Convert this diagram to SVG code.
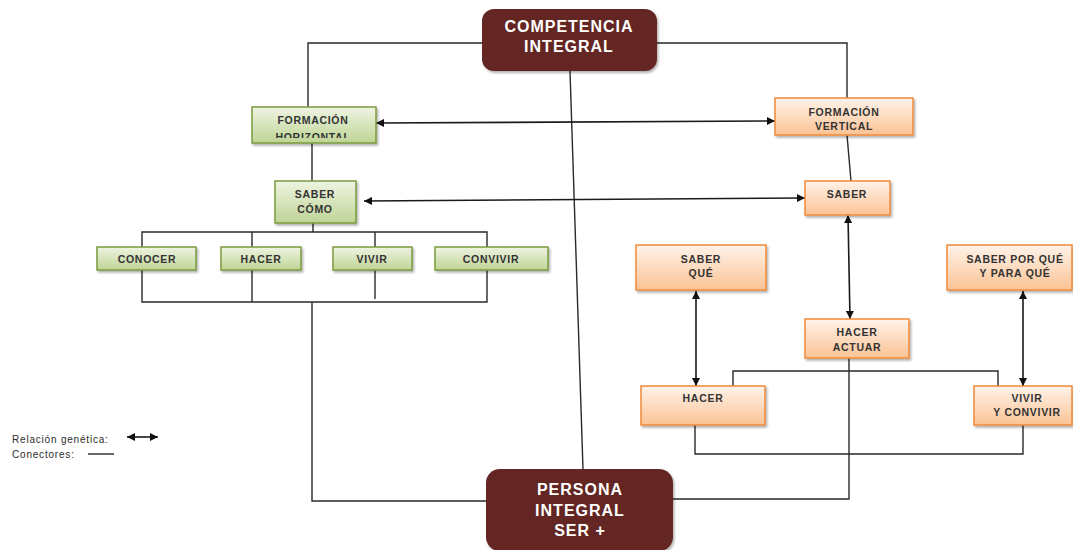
<svg xmlns="http://www.w3.org/2000/svg" width="1073" height="550" viewBox="0 0 1073 550">
<defs>
<linearGradient id="gG" x1="0" y1="0" x2="0" y2="1"><stop offset="0" stop-color="#eef4e2"/><stop offset="1" stop-color="#bfd495"/></linearGradient>
<linearGradient id="gO" x1="0" y1="0" x2="0" y2="1"><stop offset="0" stop-color="#fff3ea"/><stop offset="1" stop-color="#fbc394"/></linearGradient>
<filter id="sh" x="-10%" y="-10%" width="130%" height="140%"><feDropShadow dx="1.5" dy="2" stdDeviation="1.2" flood-color="#000" flood-opacity="0.3"/></filter>
<marker id="ah" viewBox="0 0 10 10" refX="10" refY="5" markerWidth="10" markerHeight="8" markerUnits="userSpaceOnUse" orient="auto-start-reverse"><path d="M0,0 L10,5 L0,10 z" fill="#111"/></marker>
<clipPath id="cFH"><rect x="253" y="108" width="122" height="30"/></clipPath>
</defs>
<style>
.g{fill:url(#gG);stroke:#7b9a3e;stroke-width:1.5}
.o{fill:url(#gO);stroke:#f08a3a;stroke-width:1.5}
.b{fill:#632523}
.t{font-family:"Liberation Sans",Arial,sans-serif;font-weight:bold;font-size:10.5px;letter-spacing:0.7px;fill:#333;text-anchor:middle}
.T{font-family:"Liberation Sans",Arial,sans-serif;font-weight:bold;font-size:16px;letter-spacing:1px;fill:#fff;text-anchor:middle}
.c{fill:none;stroke:#2a2a2a;stroke-width:1.4}
.a{fill:none;stroke:#1a1a1a;stroke-width:1.6;marker-start:url(#ah);marker-end:url(#ah)}
.l{font-family:"Liberation Sans",Arial,sans-serif;font-size:10px;letter-spacing:0.8px;fill:#2b2b2b}
</style>
<rect width="1073" height="550" fill="#fff"/>
<g id="connectors">
<polyline class="c" points="482,43 308,43 308,107"/>
<polyline class="c" points="657,43 847,43 847,98"/>
<line class="c" x1="312" y1="143" x2="312" y2="181"/>
<line class="c" x1="847" y1="135" x2="851" y2="181"/>
<line class="c" x1="313" y1="223" x2="313" y2="232"/>
<polyline class="c" points="142,247 142,232 487,232 487,247"/>
<line class="c" x1="252" y1="232" x2="252" y2="247"/>
<line class="c" x1="375" y1="232" x2="375" y2="247"/>
<polyline class="c" points="142,270 142,302 487,302 487,270"/>
<line class="c" x1="252" y1="270" x2="252" y2="302"/>
<line class="c" x1="375" y1="270" x2="375" y2="299"/>
<polyline class="c" points="312,302 312,501 487,501"/>
<line class="c" x1="570" y1="71" x2="583" y2="469"/>
<polyline class="c" points="849,358 849,499 673,499"/>
<polyline class="c" points="733,386 733,371 998,371 998,386"/>
<polyline class="c" points="695,425 695,454 1023,454 1023,425"/>
<line class="a" x1="376" y1="123" x2="775" y2="121"/>
<line class="a" x1="364" y1="201" x2="805" y2="198"/>
<line class="a" x1="848" y1="215" x2="850" y2="319"/>
<line class="a" x1="696" y1="291" x2="696" y2="386"/>
<line class="a" x1="1023" y1="291" x2="1023" y2="386"/>
</g>
<g id="competencia"><rect class="b" x="482" y="9" width="175" height="62" rx="12" filter="url(#sh)"/><text class="T" x="569" y="32">COMPETENCIA</text><text class="T" x="569" y="52">INTEGRAL</text></g>
<g id="persona"><rect class="b" x="486" y="469" width="187" height="82" rx="14" filter="url(#sh)"/><text class="T" x="580" y="495">PERSONA</text><text class="T" x="580" y="516">INTEGRAL</text><text class="T" x="580" y="536">SER +</text></g>
<g id="formacion-horizontal"><rect class="g" x="252" y="107" width="124" height="36" filter="url(#sh)"/><g clip-path="url(#cFH)"><text class="t" x="313" y="124">FORMACIÓN</text><text class="t" x="313" y="141">HORIZONTAL</text></g></g>
<g id="saber-como"><rect class="g" x="275" y="181" width="81" height="42" filter="url(#sh)"/><text class="t" x="315" y="198">SABER</text><text class="t" x="315" y="213">CÓMO</text></g>
<g id="conocer"><rect class="g" x="97" y="247" width="99" height="23" filter="url(#sh)"/><text class="t" x="147" y="263">CONOCER</text></g>
<g id="hacer-g"><rect class="g" x="221" y="247" width="80" height="23" filter="url(#sh)"/><text class="t" x="261" y="263">HACER</text></g>
<g id="vivir-g"><rect class="g" x="333" y="247" width="79" height="23" filter="url(#sh)"/><text class="t" x="372" y="263">VIVIR</text></g>
<g id="convivir"><rect class="g" x="435" y="247" width="113" height="23" filter="url(#sh)"/><text class="t" x="491" y="263">CONVIVIR</text></g>
<g id="formacion-vertical"><rect class="o" x="775" y="98" width="138" height="37" filter="url(#sh)"/><text class="t" x="844" y="116">FORMACIÓN</text><text class="t" x="844" y="130">VERTICAL</text></g>
<g id="saber"><rect class="o" x="805" y="181" width="85" height="34" filter="url(#sh)"/><text class="t" x="847" y="198">SABER</text></g>
<g id="saber-que"><rect class="o" x="636" y="245" width="130" height="45" filter="url(#sh)"/><text class="t" x="701" y="263">SABER</text><text class="t" x="701" y="277">QUÉ</text></g>
<g id="saber-por-que"><rect class="o" x="947" y="245" width="125" height="45" filter="url(#sh)"/><text class="t" x="1015" y="263">SABER POR QUÉ</text><text class="t" x="1015" y="277">Y PARA QUÉ</text></g>
<g id="hacer-actuar"><rect class="o" x="805" y="319" width="104" height="39" filter="url(#sh)"/><text class="t" x="857" y="336">HACER</text><text class="t" x="857" y="351">ACTUAR</text></g>
<g id="hacer-o"><rect class="o" x="641" y="386" width="124" height="39" filter="url(#sh)"/><text class="t" x="703" y="402">HACER</text></g>
<g id="vivir-convivir"><rect class="o" x="974" y="386" width="98" height="39" filter="url(#sh)"/><text class="t" x="1027" y="402">VIVIR</text><text class="t" x="1027" y="416">Y CONVIVIR</text></g>
<g id="legend">
<text class="l" x="12" y="443">Relación genética:</text>
<line class="a" x1="127" y1="437" x2="158" y2="437"/>
<text class="l" x="12" y="458">Conectores:</text>
<line class="c" x1="88" y1="454" x2="114" y2="454"/>
</g>
</svg>
